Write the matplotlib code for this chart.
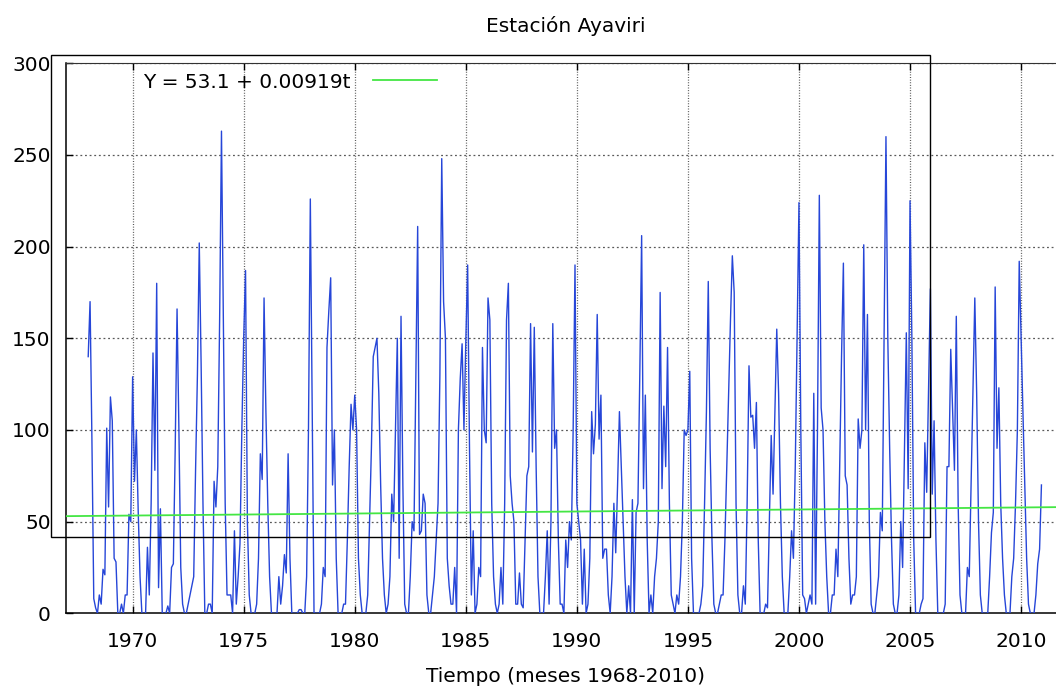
import numpy as np
import matplotlib
matplotlib.use('Agg')
import matplotlib.pyplot as plt
from matplotlib.patches import Rectangle


# precipitacion mensual (mm), estacion Ayaviri, ene 1968 - dic 2010
lluvia_1968_1969 = [
    140, 170, 95, 8, 3, 0, 10, 5, 24, 21, 101, 58,
    118, 105, 30, 28, 0, 0, 5, 0, 10, 10, 54, 50,
]
lluvia_1970s = [
    129, 72, 100, 56, 20, 0, 0, 0, 36, 10, 60, 142,
    78, 180, 14, 57, 0, 0, 0, 4, 0, 25, 27, 90,
    166, 100, 25, 5, 0, 0, 5, 10, 15, 20, 78, 130,
    202, 136, 60, 0, 0, 5, 5, 0, 72, 58, 80, 160,
    263, 160, 60, 10, 10, 10, 0, 45, 5, 20, 38, 100,
    150, 187, 50, 10, 0, 0, 0, 5, 30, 87, 73, 172,
    110, 60, 20, 0, 0, 0, 0, 20, 5, 15, 32, 22,
    87, 30, 0, 0, 0, 0, 2, 2, 0, 0, 20, 100,
    226, 110, 0, 0, 0, 0, 5, 25, 20, 145, 165, 183,
    70, 100, 30, 0, 0, 0, 5, 5, 40, 80, 114, 100,
]
lluvia_1980s = [
    119, 100, 30, 10, 0, 0, 0, 10, 50, 90, 140, 145,
    150, 120, 70, 30, 10, 0, 5, 20, 65, 50, 100, 150,
    30, 162, 70, 5, 0, 0, 20, 50, 45, 130, 211, 43,
    45, 65, 60, 10, 0, 0, 10, 20, 40, 60, 130, 248,
    170, 150, 30, 15, 5, 5, 25, 0, 100, 128, 147, 100,
    148, 190, 90, 10, 45, 0, 5, 25, 20, 145, 100, 93,
    172, 160, 60, 20, 5, 0, 5, 25, 5, 60, 160, 180,
    75, 60, 50, 5, 5, 22, 5, 3, 40, 75, 80, 158,
    88, 156, 80, 20, 0, 0, 0, 20, 45, 5, 50, 158,
    90, 100, 40, 5, 5, 0, 40, 25, 50, 40, 100, 190,
]
lluvia_1990s = [
    60, 50, 40, 5, 35, 0, 5, 30, 110, 87, 103, 163,
    95, 119, 30, 35, 35, 10, 0, 20, 60, 33, 70, 110,
    80, 50, 20, 0, 15, 0, 62, 0, 55, 60, 130, 206,
    68, 119, 40, 0, 10, 0, 20, 30, 50, 175, 68, 113,
    80, 145, 60, 10, 5, 0, 10, 5, 20, 50, 100, 97,
    100, 132, 30, 0, 0, 0, 0, 5, 15, 60, 110, 181,
    90, 40, 5, 0, 0, 5, 10, 10, 40, 80, 120, 160,
    195, 175, 60, 10, 0, 0, 15, 5, 60, 135, 107, 108,
    90, 115, 40, 0, 0, 0, 5, 3, 50, 97, 65, 110,
    155, 120, 60, 20, 0, 0, 0, 20, 45, 30, 80, 150,
]
lluvia_2000s = [
    224, 100, 10, 8, 0, 5, 10, 5, 120, 5, 100, 228,
    112, 100, 50, 20, 0, 0, 10, 10, 35, 20, 80, 140,
    191, 75, 70, 30, 5, 10, 10, 20, 106, 90, 100, 201,
    100, 163, 50, 5, 0, 0, 10, 20, 55, 45, 150, 260,
    150, 90, 40, 5, 0, 0, 10, 50, 25, 90, 153, 68,
    225, 150, 40, 0, 0, 0, 5, 8, 93, 66, 120, 177,
    65, 105, 40, 0, 0, 0, 0, 5, 80, 80, 144, 110,
    78, 162, 60, 10, 0, 0, 0, 25, 20, 70, 120, 172,
    120, 50, 10, 0, 0, 0, 0, 20, 44, 55, 178, 90,
    123, 60, 30, 10, 0, 0, 0, 20, 30, 60, 100, 192,
]
lluvia_2010 = [150, 110, 70, 30, 5, 0, 0, 0, 10, 27, 35, 70]

anio_inicio = 1968
intercepto = 53.1
pendiente = 0.00919

anios_ticks = [1970, 1975, 1980, 1985, 1990, 1995, 2000, 2005, 2010]
valores_y = [0, 50, 100, 150, 200, 250, 300]

titulo = 'Estación Ayaviri'
etiqueta_x = 'Tiempo (meses 1968-2010)'
texto_leyenda = 'Y = 53.1 + 0.00919t'


plt.rcParams['font.family'] = ['DejaVu Sans']
plt.rcParams['font.size'] = 14.5

lluvia = np.concatenate([lluvia_1968_1969, lluvia_1970s, lluvia_1980s,
                         lluvia_1990s, lluvia_2000s, lluvia_2010])
meses = np.arange(len(lluvia))
tiempo = anio_inicio + meses / 12.0

W, H = 1056, 686
fig = plt.figure(figsize=(W / 100, H / 100), dpi=100)
ax = fig.add_axes([66 / W, (H - 613.3) / H, 999.5 / W, 550 / H])
ax.set_xlim(1967, 2012)
ax.set_ylim(0, 300)

ax.plot(tiempo, lluvia, color='#2646d8', lw=1.0, zorder=3)

# recta de tendencia sobre todo el eje
x_tr = np.array(ax.get_xlim())
y_tr = intercepto + pendiente * (x_tr - anio_inicio) * 12
linea_tr, = ax.plot(x_tr, y_tr, color='#44e644', lw=1.3, zorder=4)

ax.set_xticks(anios_ticks)
ax.set_yticks(valores_y)
ax.tick_params(axis='x', direction='in', length=5, width=1, top=True, pad=13.5)
ax.tick_params(axis='y', direction='in', length=5, width=1, right=True, pad=11)

for y in valores_y[1:]:
    ax.axhline(y, color='0.35', lw=0.9, ls=(0, (1.5, 2.2)), zorder=1)
for x in anios_ticks:
    ax.axvline(x, color='0.35', lw=0.9, ls=(0, (0.8, 1.3)), zorder=1)

for s in ['left', 'bottom']:
    ax.spines[s].set_linewidth(1.1)
ax.spines['top'].set_linewidth(0.8)
ax.spines['top'].set_color('0.2')

ax.set_title(titulo, pad=22.5, fontsize=14.5)
ax.set_xlabel(etiqueta_x, fontsize=14.5)
ax.xaxis.set_label_coords(0.5, (613.3 - 682) / 550)
ax.xaxis.label.set_va('baseline')

ax.legend([linea_tr], [texto_leyenda], loc='center left', frameon=False,
          bbox_to_anchor=(143 / W, 1 - 82 / H), bbox_transform=fig.transFigure,
          borderpad=0, borderaxespad=0, markerfirst=False,
          handlelength=3.2, handletextpad=1.1, fontsize=14.5)

# marco de la leyenda (como en el original)
fig.patches.append(Rectangle((50.7 / W, (H - 537.3) / H), 879.3 / W, 482.3 / H,
                             transform=fig.transFigure, fill=False,
                             edgecolor='black', lw=1.0, zorder=5))

fig.savefig('out.png', dpi=100)
